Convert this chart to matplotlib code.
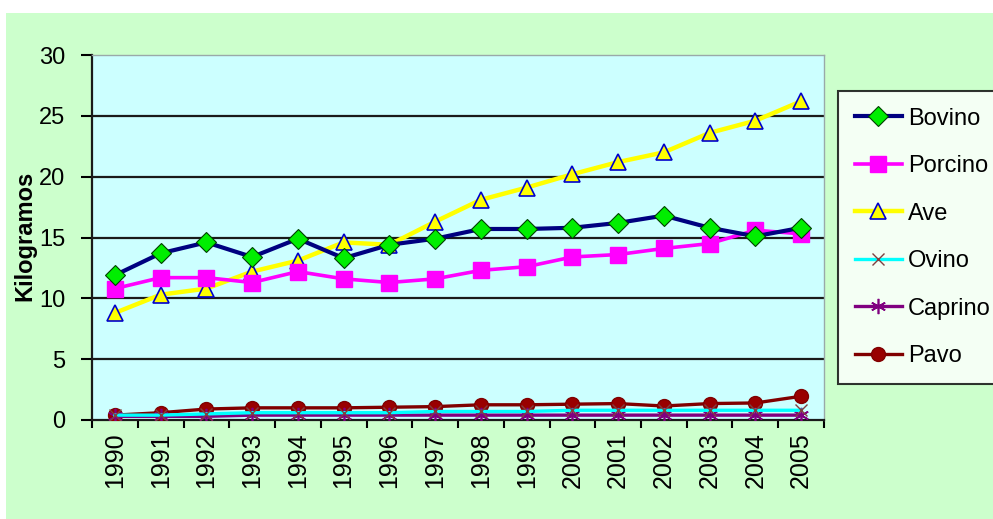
import matplotlib.pyplot as plt
from matplotlib.patches import Rectangle

years = [str(y) for y in range(1990, 2006)]

bovino = [11.9, 13.7, 14.6, 13.4, 14.9, 13.3, 14.4, 14.9, 15.7, 15.7, 15.8, 16.2, 16.8, 15.8, 15.1, 15.8]
porcino = [10.8, 11.7, 11.7, 11.3, 12.2, 11.6, 11.3, 11.6, 12.3, 12.6, 13.4, 13.6, 14.1, 14.5, 15.6, 15.3]
ave = [8.8, 10.3, 10.8, 12.2, 13.1, 14.6, 14.4, 16.3, 18.1, 19.1, 20.2, 21.2, 22.0, 23.6, 24.6, 26.2]
ovino = [0.4, 0.4, 0.5, 0.6, 0.6, 0.6, 0.6, 0.7, 0.7, 0.7, 0.8, 0.8, 0.8, 0.8, 0.8, 0.8]
caprino = [0.3, 0.3, 0.3, 0.4, 0.4, 0.4, 0.4, 0.4, 0.4, 0.4, 0.4, 0.4, 0.4, 0.4, 0.4, 0.4]
pavo = [0.4, 0.6, 0.9, 1.0, 1.0, 1.0, 1.05, 1.1, 1.25, 1.25, 1.3, 1.35, 1.15, 1.35, 1.4, 1.95]

plt.rcParams['font.family'] = ['Liberation Sans', 'DejaVu Sans']

fig = plt.figure(figsize=(9.93, 5.19), dpi=100)
fig.patch.set_facecolor('white')
# light green chart area (leaves thin white border at top/left)
fig.patches.append(Rectangle((6 / 993, 0), 1, 1 - 13 / 519, transform=fig.transFigure,
                             facecolor='#ccffcc', edgecolor='none', zorder=-10))

ax = fig.add_axes([92 / 993, 1 - 420 / 519, (824 - 92) / 993, (420 - 55) / 519])
ax.set_facecolor('#ccffff')

x = list(range(len(years)))

for v in [5, 10, 15, 20, 25]:
    ax.axhline(v, color='#1a1a1a', linewidth=1.6, zorder=1)

ax.plot(x, pavo, color='#800000', linewidth=2.4, marker='o', markersize=10,
        markerfacecolor='#990000', markeredgecolor='#800000', label='Pavo', zorder=3)
ax.plot(x, caprino, color='#800080', linewidth=2.4, marker=(6, 2, 0), markersize=11,
        markeredgecolor='#800080', markeredgewidth=1.2, label='Caprino', zorder=3)
ax.plot(x, ovino, color='#00ffff', linewidth=2.4, marker='x', markersize=9,
        markeredgecolor='#804040', markeredgewidth=1.0, label='Ovino', zorder=3)
ax.plot(x, ave, color='#ffff00', linewidth=3.2, marker='^', markersize=12,
        markerfacecolor='#ffff00', markeredgecolor='#0000cc', markeredgewidth=1.2,
        label='Ave', zorder=4)
ax.plot(x, porcino, color='#ff00ff', linewidth=2.6, marker='s', markersize=11,
        markerfacecolor='#ff00ff', markeredgecolor='#ff00ff', label='Porcino', zorder=5)
ax.plot(x, bovino, color='#000080', linewidth=3, marker='D', markersize=10,
        markerfacecolor='#00ee00', markeredgecolor='#004000', markeredgewidth=0.8,
        label='Bovino', zorder=6)

ax.set_xlim(-0.5, len(years) - 0.5)
ax.set_ylim(0, 30)
ax.set_yticks(range(0, 31, 5))
ax.set_xticks(x)
ax.set_xticklabels(years, rotation=90)
ax.set_xticks([i - 0.5 for i in range(len(years) + 1)], minor=True)
ax.tick_params(axis='x', which='major', length=0, pad=9, labelsize=18)
ax.tick_params(axis='x', which='minor', length=6, width=1.5, direction='out')
ax.tick_params(axis='y', length=8, width=1.5, direction='out', labelsize=17, pad=11)

for s in ['top', 'right']:
    ax.spines[s].set_color('#9aa9a9')
    ax.spines[s].set_linewidth(1.0)
for s in ['left', 'bottom']:
    ax.spines[s].set_color('#1a1a1a')
    ax.spines[s].set_linewidth(1.6)

fig.text(25 / 993, 1 - 236 / 519, 'Kilogramos', rotation=90, ha='center', va='center',
         fontsize=17, fontweight='bold')

handles, labels = ax.get_legend_handles_labels()
order = ['Bovino', 'Porcino', 'Ave', 'Ovino', 'Caprino', 'Pavo']
hmap = dict(zip(labels, handles))
leg = fig.legend([hmap[k] for k in order], order, loc='upper left',
                 bbox_to_anchor=(838 / 993, 1 - 91 / 519), fontsize=17,
                 frameon=True, fancybox=False, edgecolor='black',
                 handlelength=2.0, labelspacing=1.08, borderpad=0.7,
                 handletextpad=0.25, borderaxespad=0)
leg.get_frame().set_linewidth(1.5)
leg.get_frame().set_facecolor('white')

fig.savefig('out.png', dpi=100)
